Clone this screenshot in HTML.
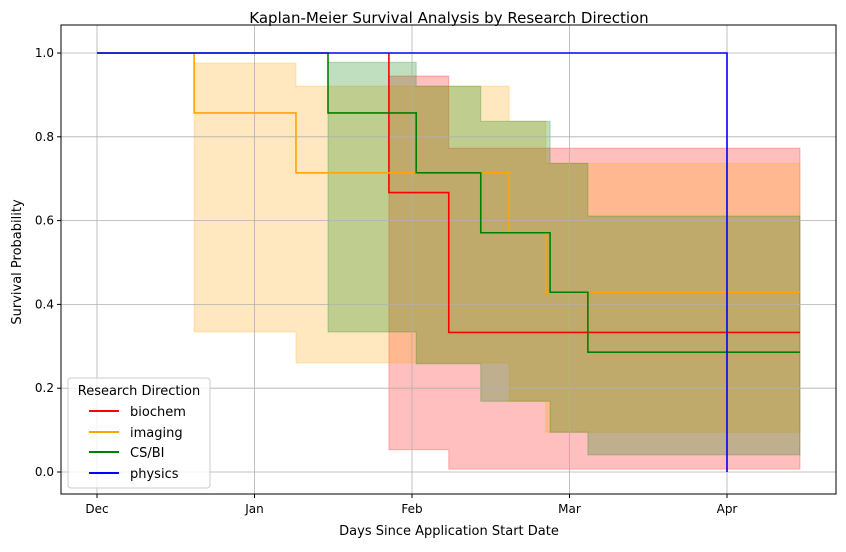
<!DOCTYPE html>
<html><head><meta charset="utf-8"><style>
body{margin:0;background:#fff;font-family:"Liberation Sans","DejaVu Sans",sans-serif}
svg text{font-family:"DejaVu Sans","Liberation Sans",sans-serif;fill:#000}
</style></head><body>
<svg id="chart" width="846" height="547" viewBox="0 0 846 547">
<rect x="0" y="0" width="846" height="547" fill="#fff"/>
<text x="449" y="23" font-size="15" text-anchor="middle">Kaplan-Meier Survival Analysis by Research Direction</text>
<g id="bands"></g><g id="grid"></g><g id="lines"></g><g id="axes"></g>
<text x="449" y="535" font-size="13" text-anchor="middle">Days Since Application Start Date</text>
<text transform="translate(21,262) rotate(-90)" font-size="13" text-anchor="middle">Survival Probability</text>
<g>
<rect x="68" y="378" width="142" height="110" rx="3" fill="#fff" fill-opacity="0.8" stroke="#ccc"/>
<text x="139" y="395" font-size="13" text-anchor="middle">Research Direction</text>
<g><line x1="89" x2="119" y1="411" y2="411" stroke="red" stroke-width="2"/><text x="130" y="416" font-size="13">biochem</text></g>
<g><line x1="89" x2="119" y1="432" y2="432" stroke="orange" stroke-width="2"/><text x="130" y="437" font-size="13">imaging</text></g>
<g><line x1="89" x2="119" y1="452" y2="452" stroke="green" stroke-width="2"/><text x="130" y="457" font-size="13">CS/BI</text></g>
<g><line x1="89" x2="119" y1="473" y2="473" stroke="blue" stroke-width="2"/><text x="130" y="478" font-size="13">physics</text></g>
</g>
</svg>
<script>
const xTickDays=[0,30,60,90,120];
const xTickLabels=["Dec","Jan","Feb","Mar","Apr"];
const yTicks=[0,0.2,0.4,0.6,0.8,1.0];
const seriesNames=["biochem","imaging","CS/BI","physics"];
const biochemT=[55.6,55.6,67,133.9];
const biochemS=[1,0.667,0.333,0.333];
const biochemLo=[1,0.053,0.007,0.007];
const biochemHi=[1,0.945,0.773,0.773];
const imagingT=[0,18.5,37.9,78.5,85.5,133.9];
const imagingS=[1,0.857,0.714,0.571,0.429,0.429];
const imagingLo=[1,0.334,0.26,0.169,0.095,0.095];
const imagingHi=[1,0.976,0.921,0.837,0.737,0.737];
const csbiT=[0,44,60.8,73.1,86.3,93.5,133.9];
const csbiS=[1,0.857,0.714,0.571,0.429,0.286,0.286];
const csbiLo=[1,0.334,0.258,0.169,0.095,0.041,0.041];
const csbiHi=[1,0.978,0.921,0.837,0.737,0.611,0.611];
const physicsT=[0,120];
const physicsS=[1,0];

const L=61,R=836,T=25,B=494;
const X=d=>97+d*5.25;
const Y=p=>472-p*419;
const NS="http://www.w3.org/2000/svg";
function mk(tag,attrs,parent){const e=document.createElementNS(NS,tag);for(const k in attrs)e.setAttribute(k,attrs[k]);parent.appendChild(e);return e;}
const grid=document.getElementById('grid'),axes=document.getElementById('axes'),bands=document.getElementById('bands'),lines=document.getElementById('lines');
xTickDays.forEach((d,i)=>{
 const g=mk('line',{x1:X(d),x2:X(d),y1:T,y2:B,stroke:'#b0b0b0','stroke-width':0.8},grid);
 
 
 mk('line',{x1:X(d),x2:X(d),y1:B,y2:B+4,stroke:'#000'},axes);
 const t=mk('text',{x:X(d),y:B+19,'font-size':12,'text-anchor':'middle'},axes);t.textContent=xTickLabels[i];
 
 
});
yTicks.forEach(v=>{
 const g=mk('line',{x1:L,x2:R,y1:Y(v),y2:Y(v),stroke:'#b0b0b0','stroke-width':0.8},grid);
 
 
 mk('line',{x1:L-4,x2:L,y1:Y(v),y2:Y(v),stroke:'#000'},axes);
 const t=mk('text',{x:L-7,y:Y(v)+4,'font-size':12,'text-anchor':'end'},axes);t.textContent=v.toFixed(1);
 
 
});
const frame=mk('rect',{x:L,y:T,width:R-L,height:B-T,fill:'none',stroke:'#000','stroke-width':1},axes);


function stepPath(t,s){let d=`M${X(t[0])},${Y(s[0])}`;for(let i=1;i<t.length;i++)d+=` H${X(t[i])} V${Y(s[i])}`;return d;}
function bandPath(t,lo,hi){
 let d=`M${X(t[0])},${Y(hi[0])}`;
 for(let i=1;i<t.length;i++)d+=` H${X(t[i])} V${Y(hi[i])}`;
 d+=` V${Y(lo[t.length-1])}`;
 for(let i=t.length-1;i>0;i--)d+=` H${X(t[i])} V${Y(lo[i-1])}`;
 d+=` H${X(t[0])} Z`;return d;
}
const series=[[biochemT,biochemS,biochemLo,biochemHi,'255,0,0','red'],[imagingT,imagingS,imagingLo,imagingHi,'255,165,0','orange'],[csbiT,csbiS,csbiLo,csbiHi,'0,128,0','green']];
series.forEach((s,i)=>{
 const b=mk('path',{d:bandPath(s[0],s[2],s[3]),fill:`rgba(${s[4]},0.25)`,stroke:`rgba(${s[4]},0.25)`},bands);
 
 
});
series.forEach((s,i)=>{
 const p=mk('path',{d:stepPath(s[0],s[1]),fill:'none',stroke:s[5],'stroke-width':1.6},lines);
 
 
});
const ph=mk('path',{d:stepPath(physicsT,physicsS),fill:'none',stroke:'blue','stroke-width':1.6},lines);


</script>
</body></html>
